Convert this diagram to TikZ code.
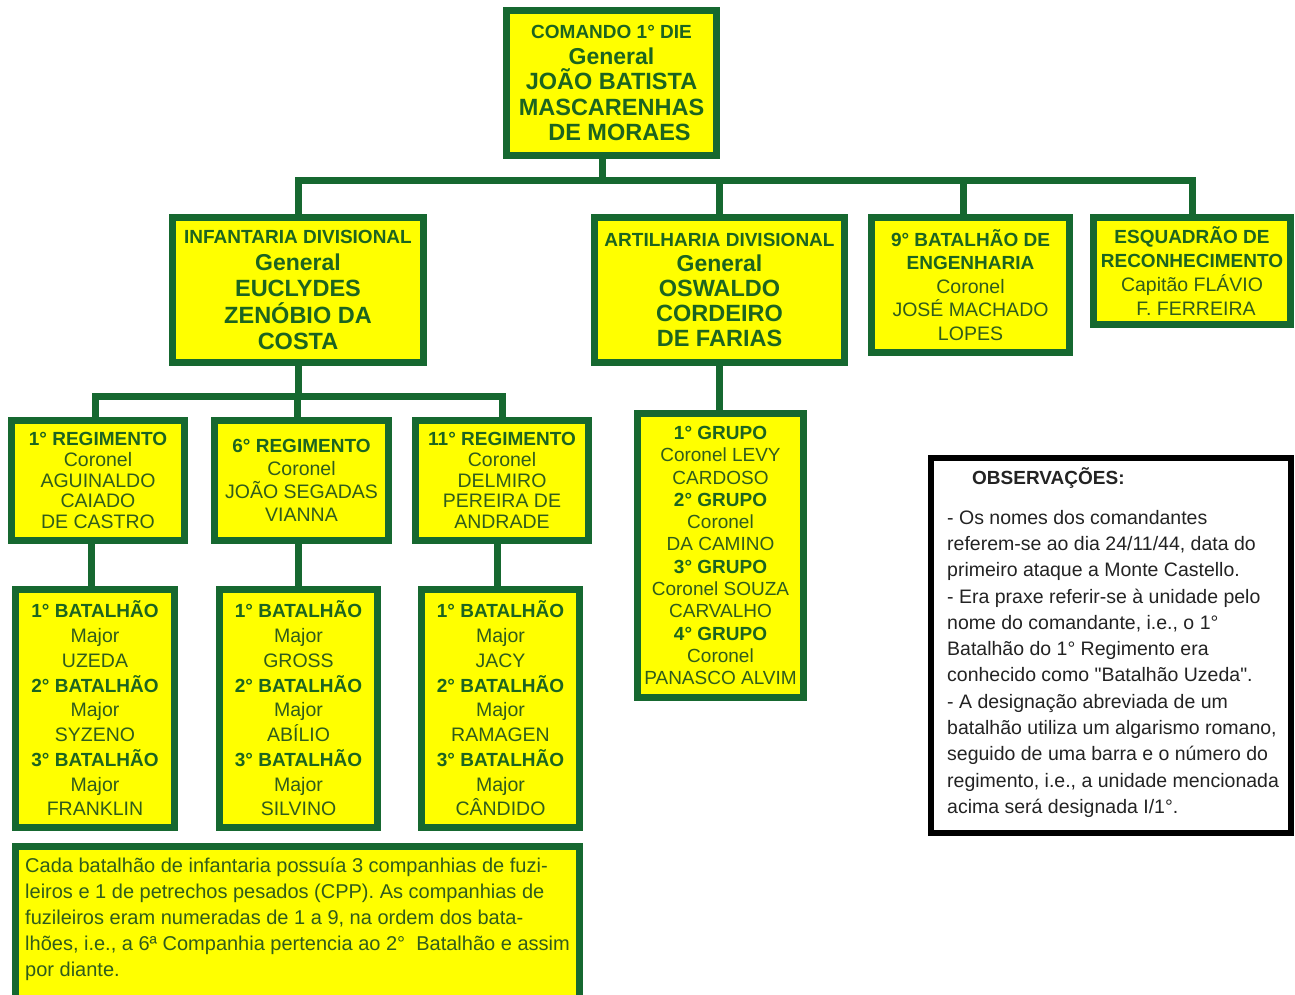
\documentclass[tikz,border=0pt]{standalone}
\usepackage{fontspec}
\setmainfont{Liberation Sans}
\newfontfamily\qf{Liberation Sans}
\definecolor{dg}{RGB}{22,104,48}
\definecolor{yy}{RGB}{255,255,0}
\definecolor{tg}{RGB}{28,100,32}
\definecolor{tr}{RGB}{48,92,28}
\definecolor{ot}{RGB}{35,35,35}
\newcommand\oTitle[1]{{\fontsize{19}{0}\selectfont\bfseries\color{tg}#1}}
\newcommand\oGen[1]{{\fontsize{23}{0}\selectfont\bfseries\color{tg}#1}}
\newcommand\oName[1]{{\fontsize{23.5}{0}\selectfont\bfseries\color{tg}#1}}
\newcommand\oReg[1]{{\fontsize{19.5}{0}\selectfont\mdseries\color{tr}#1}}
\newcommand\oRegS[1]{{\fontsize{19}{0}\selectfont\mdseries\color{tr}#1}}
\newcommand\oQ{{\qf"}}
\tikzset{
  box/.style={draw=dg, fill=yy, line width=7pt, inner sep=0pt, align=center},
  conn/.style={draw=dg, line width=7pt},
  lsp/.style={font={\lineskiplimit=-100pt\fontsize{19}{#1}\selectfont}},
}
\begin{document}
\begin{tikzpicture}[x=1pt,y=-1pt]
\useasboundingbox (0,0) rectangle (1295,994);
\fill[white] (0,0) rectangle (1295,994);
\clip (0,0) rectangle (1295,994);

% top level
\node[box, lsp=25.5, minimum width=210, minimum height=145] (cmd) at (611.5,83)
  {\oTitle{COMANDO 1° DIE}\\ \oGen{General}\\ \oName{JOÃO BATISTA}\\ \oName{MASCARENHAS}\\ \oName{\hspace*{16pt}DE MORAES}};

% second level
\node[box, lsp=26.5, minimum width=251, minimum height=145] (inf) at (298,290)
  {\oTitle{INFANTARIA DIVISIONAL}\\ \oGen{General}\\ \oName{EUCLYDES}\\ \oName{ZENÓBIO DA}\\ \oName{COSTA}};
\node[box, lsp=25, minimum width=250, minimum height=145] (art) at (719.5,290)
  {\oTitle{ARTILHARIA DIVISIONAL}\\ \oGen{General}\\ \oName{OSWALDO}\\ \oName{CORDEIRO}\\ \oName{DE FARIAS}};
\node[box, lsp=23.5, minimum width=198, minimum height=135] (eng) at (970.5,285)
  {\oTitle{9° BATALHÃO DE}\\ \oTitle{ENGENHARIA}\\ \oReg{Coronel}\\ \oReg{JOSÉ MACHADO}\\ \oReg{LOPES}};
\node[box, lsp=24, minimum width=197, minimum height=107] (esq) at (1192,271)
  {\oTitle{ESQUADRÃO DE}\\ \oTitle{RECONHECIMENTO}\\ \oReg{Capitão FLÁVIO}\\ \oReg{\hspace*{8pt}F. FERREIRA}};

% regiments
\node[box, lsp=20.75, minimum width=173, minimum height=120] (reg1) at (98,480.5)
  {\oTitle{1° REGIMENTO}\\ \oReg{Coronel}\\ \oReg{AGUINALDO}\\ \oReg{CAIADO}\\ \oReg{DE CASTRO}};
\node[box, lsp=23, minimum width=174, minimum height=120] (reg6) at (301.5,480.5)
  {\oTitle{6° REGIMENTO}\\ \oReg{Coronel}\\ \oReg{JOÃO SEGADAS}\\ \oReg{VIANNA}};
\node[box, lsp=20.75, minimum width=173, minimum height=120] (reg11) at (502,480.5)
  {\oTitle{11° REGIMENTO}\\ \oReg{Coronel}\\ \oReg{DELMIRO}\\ \oReg{PEREIRA DE}\\ \oReg{ANDRADE}};

% battalions
\node[box, lsp=24.75, minimum width=159, minimum height=238] (bat1) at (95,708.5)
  {\oTitle{1° BATALHÃO}\\ \oReg{Major}\\ \oReg{UZEDA}\\ \oTitle{2° BATALHÃO}\\ \oReg{Major}\\ \oReg{SYZENO}\\ \oTitle{3° BATALHÃO}\\ \oReg{Major}\\ \oReg{FRANKLIN}};
\node[box, lsp=24.75, minimum width=158, minimum height=238] (bat2) at (298.5,708.5)
  {\oTitle{1° BATALHÃO}\\ \oReg{Major}\\ \oReg{GROSS}\\ \oTitle{2° BATALHÃO}\\ \oReg{Major}\\ \oReg{ABÍLIO}\\ \oTitle{3° BATALHÃO}\\ \oReg{Major}\\ \oReg{SILVINO}};
\node[box, lsp=24.75, minimum width=158, minimum height=238] (bat3) at (500.5,708.5)
  {\oTitle{1° BATALHÃO}\\ \oReg{Major}\\ \oReg{JACY}\\ \oTitle{2° BATALHÃO}\\ \oReg{Major}\\ \oReg{RAMAGEN}\\ \oTitle{3° BATALHÃO}\\ \oReg{Major}\\ \oReg{CÂNDIDO}};

% artillery groups
\node[box, lsp=22.3, minimum width=166, minimum height=284] (grp) at (720.5,555.5)
  {\oTitle{1° GRUPO}\\ \oRegS{Coronel LEVY}\\ \oRegS{CARDOSO}\\ \oTitle{2° GRUPO}\\ \oRegS{Coronel}\\ \oRegS{DA CAMINO}\\ \oTitle{3° GRUPO}\\ \oRegS{Coronel SOUZA}\\ \oRegS{CARVALHO}\\ \oTitle{4° GRUPO}\\ \oRegS{Coronel}\\ \oRegS{PANASCO ALVIM}};

% observations
\node[draw=black, fill=white, line width=6pt, inner sep=0pt, minimum width=360, minimum height=375] (obs) at (1111,645.5) {};
\node[anchor=north west, align=left, inner sep=0pt, text=ot,
      font={\lineskiplimit=-100pt\fontsize{19.5}{26.3}\selectfont}] (obstxt) at (947,467)
  {\hspace*{25pt}{\fontsize{19}{0}\selectfont\bfseries OBSERVAÇÕES:}\\[13.7pt]
   - Os nomes dos comandantes\\
   referem-se ao dia 24/11/44, data do\\
   primeiro ataque a Monte Castello.\\
   - Era praxe referir-se à unidade pelo\\
   nome do comandante, i.e., o 1°\\
   Batalhão do 1° Regimento era\\
   conhecido como \oQ Batalhão Uzeda\oQ.\\
   - A designação abreviada de um\\
   batalhão utiliza um algarismo romano,\\
   seguido de uma barra e o número do\\
   regimento, i.e., a unidade mencionada\\
   acima será designada I/1°.};

% bottom note
\node[box, minimum width=564, minimum height=163] (note) at (297.5,928) {};
\node[anchor=north west, align=left, inner sep=0pt, text=tr,
      font={\lineskiplimit=-100pt\fontsize{20}{26}\selectfont}] (notetxt) at (25,857.5)
  {Cada batalhão de infantaria possuía 3 companhias de fuzi-\\
   leiros e 1 de petrechos pesados (CPP). As companhias de\\
   fuzileiros eram numeradas de 1 a 9, na ordem dos bata-\\
   lhões, i.e., a 6ª Companhia pertencia ao 2°~ Batalhão e assim\\
   por diante.};

% connectors
\coordinate (bus) at (0,180);
\coordinate (ibus) at (0,396);
\draw[conn] ([xshift=-9.5pt]cmd.south) -- ([xshift=-9.5pt]cmd.south |- bus);
\draw[conn] (inf.north) |- (esq.north |- bus) -- (esq.north);
\draw[conn] (art.north) -- (art.north |- bus);
\draw[conn] ([xshift=-7.5pt]eng.north) -- ([xshift=-7.5pt]eng.north |- bus);
\draw[conn] (inf.south) -- (inf.south |- ibus);
\draw[conn] ([xshift=-3pt]reg1.north) |- (reg11.north |- ibus) -- (reg11.north);
\draw[conn] ([xshift=-4pt]reg6.north) -- ([xshift=-4pt]reg6.north |- ibus);
\draw[conn] ([xshift=-4pt]bat1.north) -- ([xshift=-4pt]bat1.north |- reg1.south);
\draw[conn] (bat2.north) -- (bat2.north |- reg6.south);
\draw[conn] ([xshift=-3.5pt]bat3.north) -- ([xshift=-3.5pt]bat3.north |- reg11.south);
\draw[conn] (art.south) -- (art.south |- grp.north);
\end{tikzpicture}
\end{document}
